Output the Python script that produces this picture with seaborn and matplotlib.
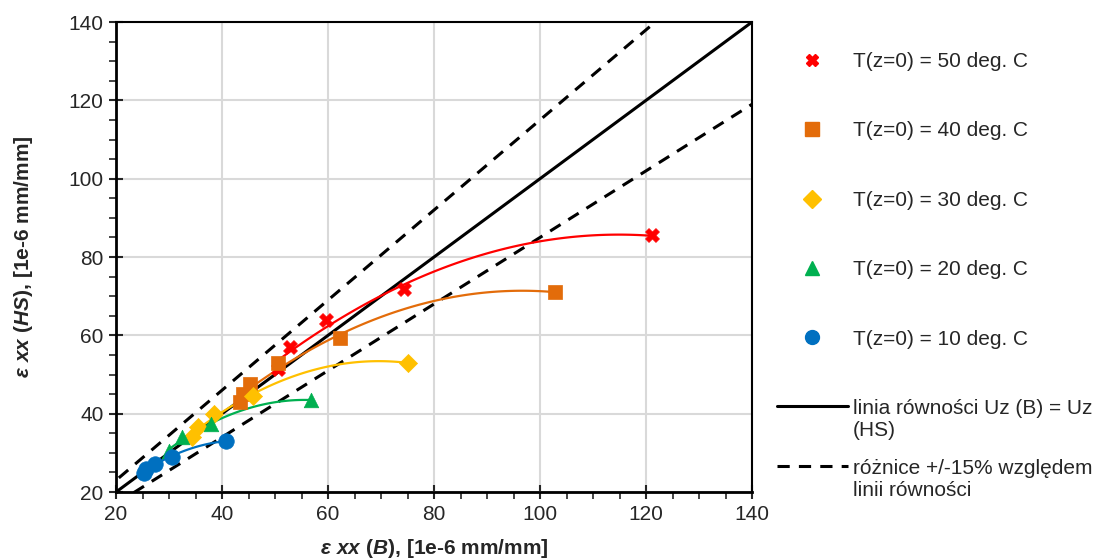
import numpy as np
import seaborn as sns
import matplotlib.pyplot as plt
from matplotlib.lines import Line2D
from matplotlib.ticker import MultipleLocator

# values
x50 = [50.5, 52.8, 59.6, 74.3, 121.2]
y50 = [51.5, 57.0, 64.0, 71.8, 85.5]
x40 = [43.3, 44.0, 45.3, 50.5, 62.3, 102.8]
y40 = [43.0, 45.0, 47.5, 53.0, 59.3, 71.1]
x30 = [34.3, 35.5, 38.5, 45.8, 75.0]
y30 = [34.0, 36.5, 40.0, 44.5, 53.0]
x20 = [30.0, 32.5, 38.0, 56.8]
y20 = [30.5, 34.0, 37.3, 43.5]
x10 = [25.2, 25.6, 27.3, 30.5, 40.8]
y10 = [24.8, 25.8, 27.2, 29.0, 33.0]

labels = ['T(z=0) = 50 deg. C', 'T(z=0) = 40 deg. C', 'T(z=0) = 30 deg. C',
          'T(z=0) = 20 deg. C', 'T(z=0) = 10 deg. C']
colors = ['#FF0000', '#E36C0A', '#FFC000', '#00B050', '#0070C0']
markers = ['X', 's', 'D', '^', 'o']
sizes = [100, 110, 85, 110, 125]
series = [(x50, y50), (x40, y40), (x30, y30), (x20, y20), (x10, y10)]

axis_range = [20, 140]
tol = 0.15

sns.set_style('white')
plt.rcParams['font.family'] = ['Liberation Sans', 'DejaVu Sans']
plt.rcParams['font.size'] = 15
plt.rcParams['mathtext.fontset'] = 'custom'
plt.rcParams['mathtext.it'] = 'Liberation Sans:italic:bold'
plt.rcParams['mathtext.rm'] = 'Liberation Sans:bold'

fig = plt.figure(figsize=(10.99, 5.6), dpi=100)
ax = fig.add_axes([0.1056, 0.1214, 0.5787, 0.8393])

# equality line and +/-15% lines
ref_x = np.array([0, 200], dtype=float)
dash = (0, (4, 3))
sns.lineplot(x=ref_x, y=ref_x, color='black', lw=2.2, ax=ax, zorder=2)
sns.lineplot(x=ref_x, y=ref_x * (1 + tol), color='black', lw=2.2, ax=ax,
             linestyle=dash, zorder=2)
sns.lineplot(x=ref_x, y=ref_x * (1 - tol), color='black', lw=2.2, ax=ax,
             linestyle=dash, zorder=2)

# 2nd order trendlines + points
for (xs, ys), c, m, s in zip(series, colors, markers, sizes):
    coef = np.polyfit(xs, ys, 2)
    xx = np.linspace(min(xs), max(xs), 100)
    sns.lineplot(x=xx, y=np.polyval(coef, xx), color=c, lw=1.6, ax=ax, zorder=3)
    sns.scatterplot(x=xs, y=ys, color=c, marker=m, s=s, edgecolor=c,
                    linewidth=0.5, ax=ax, zorder=4)

ax.set_xlim(*axis_range)
ax.set_ylim(*axis_range)
ax.xaxis.set_major_locator(MultipleLocator(20))
ax.yaxis.set_major_locator(MultipleLocator(20))
ax.xaxis.set_minor_locator(MultipleLocator(5))
ax.yaxis.set_minor_locator(MultipleLocator(5))
ax.grid(True, which='major', color='#D9D9D9', lw=1.5)
ax.set_axisbelow(True)
ax.tick_params(which='major', direction='inout', length=10, width=1.5,
               bottom=True, left=True, labelsize=15, pad=4)
ax.tick_params(which='minor', direction='out', length=5, width=1.2,
               bottom=True, left=True)
for sp in ax.spines.values():
    sp.set_visible(True)
    sp.set_color('black')
    sp.set_linewidth(1.5)
ax.spines['bottom'].set_linewidth(2)
ax.spines['left'].set_linewidth(2)

ax.set_xlabel(r'$\mathit{\varepsilon\ xx\ (B)}$, [1e-6 mm/mm]', fontweight='bold',
              fontsize=15, labelpad=10)
ax.set_ylabel(r'$\mathit{\varepsilon\ xx\ (HS)}$, [1e-6 mm/mm]', fontweight='bold',
              fontsize=15, labelpad=24)

# legend: series markers
handles = [Line2D([], [], color=c, marker=m, linestyle='none', markersize=ms)
           for c, m, ms in zip(colors, markers, [9, 10, 9, 10, 10])]
fig.legend(handles, labels, loc='upper left', bbox_to_anchor=(0.707, 0.907),
           frameon=False, fontsize=15, handlelength=3.4, handletextpad=0.25,
           labelspacing=2.42, borderpad=0, borderaxespad=0)

# legend: reference lines (line sample next to the first row of its label)
blank = Line2D([], [], linestyle='none')
ref_entries = [
    (Line2D([], [], color='black', lw=2.2), ['linia równości Uz (B) = Uz', '(HS)'], 0.288),
    (Line2D([], [], color='black', lw=2.2, linestyle=dash),
     ['różnice +/-15% względem', 'linii równości'], 0.181),
]
for h, lab, top in ref_entries:
    fig.legend([h, blank], lab, loc='upper left', bbox_to_anchor=(0.707, top),
               frameon=False, fontsize=15, handlelength=3.4, handletextpad=0.25,
               labelspacing=0.15, borderpad=0, borderaxespad=0)

fig.savefig('out.png', dpi=100)
